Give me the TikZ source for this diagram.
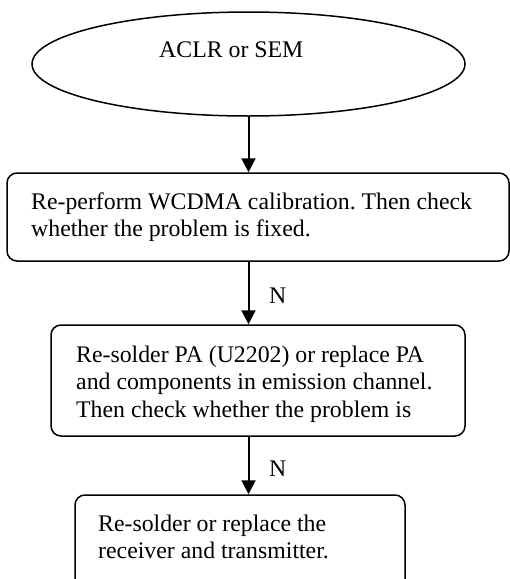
\documentclass[tikz,border=0pt]{standalone}
\usepackage{fontspec}
\setmainfont{Liberation Serif}
\usetikzlibrary{shapes.geometric,arrows.meta}
\frenchspacing
\begin{document}
\begin{tikzpicture}[x=1pt,y=-1pt,
  every node/.style={font=\fontsize{23.8}{27.5}\selectfont},
  startshape/.style={ellipse,draw,line width=1.5pt,inner sep=0pt,
    minimum width=433pt,minimum height=104pt},
  procbox/.style={draw,line width=1.5pt,rounded corners=10pt,
    rectangle,inner sep=0pt},
  txt/.style={anchor=base west,inner sep=0pt},
  flow/.style={line width=2pt,-{Triangle[width=14pt,length=14pt]}}]
\useasboundingbox (0,0) rectangle (510,579);
\clip (0,0) rectangle (510,579);
% start ellipse
\node[startshape] (start) at (248.5,64) {};
\node[txt] (starttxt) at (159,57) {ACLR or SEM};
% process boxes
\node[procbox,minimum width=502pt,minimum height=88pt] (calib) at (258,217) {};
\node[txt] (calibtxt) at (31,209)
  {\vtop{\hbox{Re-perform WCDMA calibration. Then check}\hbox{whether the problem is fixed.}}};
\node[procbox,minimum width=414pt,minimum height=111pt] (pa) at (258,380.5) {};
\node[txt] (patxt) at (76,362)
  {\vtop{\hbox{Re-solder PA (U2202) or replace PA}\hbox{and components in emission channel.}\hbox{Then check whether the problem is}}};
\node[procbox,minimum width=330pt,minimum height=95pt] (trx) at (240,542.5) {};
\node[txt] (trxtxt) at (98,531)
  {\vtop{\hbox{Re-solder or replace the}\hbox{receiver and transmitter.}}};
% connectors
\draw[flow] (start.south) -- (start.south |- calib.north);
\draw[flow] (start.south |- calib.south) -- (start.south |- pa.north);
\draw[flow] (start.south |- pa.south) -- (start.south |- trx.north);
% branch labels
\node[txt] (n1) at (269,303) {N};
\node[txt] (n2) at (269,476) {N};
\end{tikzpicture}
\end{document}
